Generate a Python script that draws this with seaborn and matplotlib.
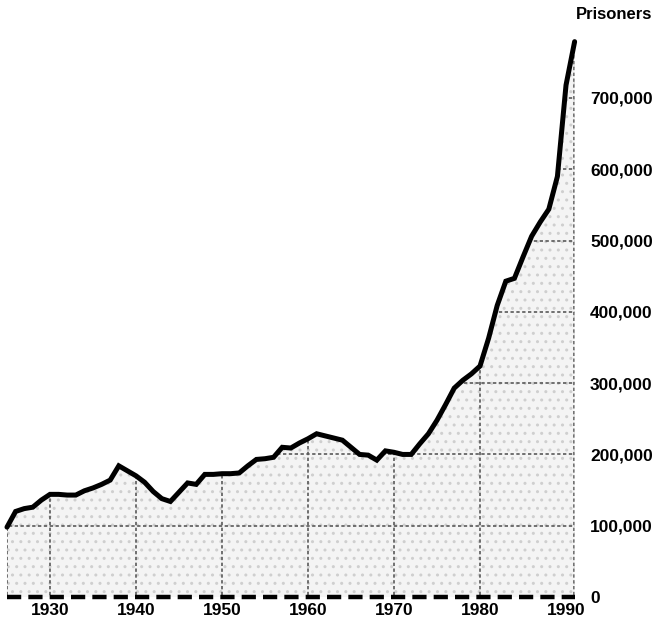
import matplotlib
matplotlib.use("Agg")
import matplotlib.pyplot as plt
from matplotlib.patches import Polygon
import seaborn as sns
import pandas as pd

years = list(range(1925, 1992))
prisoners_k = [98, 120, 124, 126, 136, 144, 144, 143, 143, 149,
               153, 158, 164, 184, 177, 170, 161, 148, 138, 134,
               147, 160, 158, 172, 172, 173, 173, 174, 184, 193,
               194, 196, 210, 209, 216, 222, 229, 226, 223, 220,
               210, 200, 199, 192, 205, 203, 200, 200, 215, 229,
               248, 270, 293, 304, 313, 324, 363, 409, 443, 447,
               477, 506, 526, 544, 590, 718, 779]
prisoners = [v * 1000 for v in prisoners_k]
x_ticks = [1930, 1940, 1950, 1960, 1970, 1980, 1990]
y_ticks = [0, 100000, 200000, 300000, 400000, 500000, 600000, 700000]
y_labels = ["0", "100,000", "200,000", "300,000", "400,000", "500,000", "600,000", "700,000"]
title = "Prisoners"

sns.set_style("white")
plt.rcParams["font.family"] = ["Liberation Sans", "DejaVu Sans"]
plt.rcParams["text.color"] = "black"
plt.rcParams["xtick.color"] = "black"
plt.rcParams["ytick.color"] = "black"

df = pd.DataFrame({"year": years, "prisoners": prisoners})

fig = plt.figure(figsize=(6.56, 6.26), dpi=100)
ax = fig.add_axes([0.0041, 0.0406, 0.8784, 0.9054])

# filled area
verts = [(years[0], 0)] + list(zip(years, prisoners)) + [(years[-1], 0)]
patch = Polygon(verts, closed=True, facecolor="#f4f4f4", edgecolor="none", zorder=1)
ax.add_patch(patch)
hatch = Polygon(verts, closed=True, facecolor="none", edgecolor="#cfcfcf", hatch="..", linewidth=0, zorder=1.1)
ax.add_patch(hatch)

# grid lines clipped to fill
for yt in y_ticks[1:]:
    ln = ax.axhline(yt, color="#5a5a5a", lw=1.2, ls=(0, (2, 1.5)), zorder=2)
    ln.set_clip_path(patch)
for xt in x_ticks[:-1] + [years[-1] - 0.1]:
    ln = ax.axvline(xt, color="#5a5a5a", lw=1.2, ls=(0, (2, 1.5)), zorder=2)
    ln.set_clip_path(patch)
ln = ax.axvline(years[0] + 0.05, color="#5a5a5a", lw=1.2, ls=(0, (2, 1.5)), zorder=2)
ln.set_clip_path(patch)

# dashed baseline
ax.plot([years[0], years[-1]], [0, 0], color="black", lw=3.2, ls=(0, (3.2, 1.6)),
        solid_capstyle="butt", dash_capstyle="butt", zorder=3)

sns.lineplot(data=df, x="year", y="prisoners", color="black", lw=3.6, ax=ax, zorder=4)
ax.lines[-1].set_solid_joinstyle("miter")

ax.set_xlim(1924.5, 1991.5)
ax.set_ylim(-5000, 790000)
for s in ax.spines.values():
    s.set_visible(False)

ax.set_xticks(x_ticks)
ax.set_xticklabels([str(x) for x in x_ticks], fontsize=12.5, fontweight="bold", color="black")
ax.yaxis.tick_right()
ax.set_yticks(y_ticks)
ax.set_yticklabels(y_labels, fontsize=12.5, fontweight="bold", ha="left", color="black")
ax.tick_params(axis="both", length=0)
ax.tick_params(axis="y", pad=8)
ax.tick_params(axis="x", pad=2)
ax.set_xlabel("")
ax.set_ylabel("")
ax.grid(False)

fig.text(0.994, 0.977, title, ha="right", va="center", fontsize=12, fontweight="bold", color="black")

fig.savefig("out.png", dpi=100, facecolor="white")
